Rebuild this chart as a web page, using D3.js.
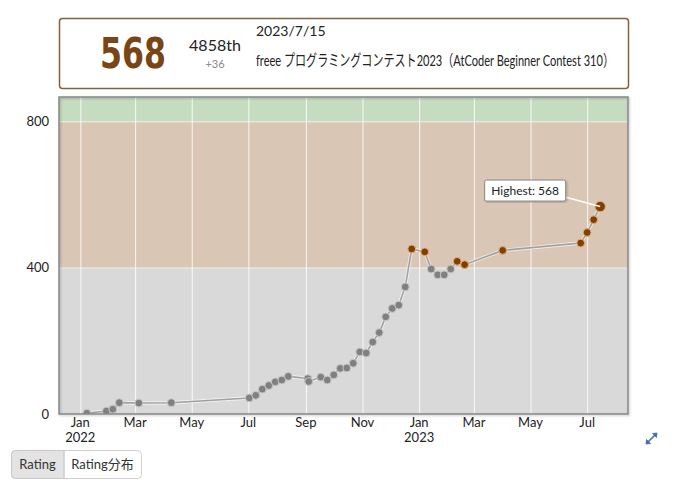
<!DOCTYPE html>
<html><head><meta charset="utf-8">
<script src="https://cdnjs.cloudflare.com/ajax/libs/d3/7.8.5/d3.min.js"></script>
<style>
body{margin:0;background:#fff;}
svg{display:block;font-family:Lato,"Noto Sans CJK JP",sans-serif;}
</style></head>
<body><svg id="c" width="680" height="491"></svg>
<script>
const contestDates = ["2022-01-08","2022-01-29","2022-02-05","2022-02-12","2022-03-05","2022-04-09","2022-07-02","2022-07-09","2022-07-16","2022-07-23","2022-07-30","2022-08-06","2022-08-13","2022-09-03","2022-09-04","2022-09-17","2022-09-24","2022-10-01","2022-10-08","2022-10-15","2022-10-22","2022-10-29","2022-11-05","2022-11-12","2022-11-19","2022-11-26","2022-12-03","2022-12-10","2022-12-17","2022-12-24","2023-01-07","2023-01-14","2023-01-21","2023-01-28","2023-02-04","2023-02-11","2023-02-19","2023-04-01","2023-06-24","2023-07-01","2023-07-08","2023-07-15"];
const ratings = [2,8,13,31,30,31,44,51,68,78,88,93,103,97,89,101,93,107,125,126,139,170,167,197,223,266,289,298,348,452,444,397,381,381,397,418,409,448,468,497,532,568];
const yTicks = [0,400,800];
const bandBounds = [0,400,800,1200];
const bandColors = ["#d9d9d9","#d9c6b4","#c6dcc0"];
const monthNames = ["Jan","Feb","Mar","Apr","May","Jun","Jul","Aug","Sep","Oct","Nov","Dec"];
const header = {rating:"568", rank:"4858th", diff:"+36", date:"2023/7/15", contest:"freee プログラミングコンテスト2023（AtCoder Beginner Contest 310）"};
const buttons = ["Rating","Rating分布"];

const svg = d3.select("#c");
const pl=59, pt=97, pw=569, ph=317;
const parse = d3.timeParse("%Y-%m-%d");
const dates = contestDates.map(parse);
const data = dates.map((d,i)=>({d, r:ratings[i]}));
const x = d3.scaleTime()
  .domain([d3.timeDay.offset(dates[0],-30), d3.timeDay.offset(dates[dates.length-1],30)])
  .range([pl, pl+pw]);
const yMax = d3.max(ratings)+300;
const y = d3.scaleLinear().domain([0,yMax]).range([pt+ph, pt]);
const col = r => r<400 ? "#808080" : (r<800 ? "#804000" : "#008000");

function fitText(sel, x0, y0, width){
  sel.attr("x",0).attr("y",0);
  const w = sel.node().getComputedTextLength();
  sel.attr("transform",`translate(${x0},${y0}) scale(${width/w},1)`);
}

// header box
svg.append("rect").attr("x",59.5).attr("y",18.5).attr("width",569).attr("height",70)
  .attr("rx",3).attr("fill","#fff").attr("stroke","#86603c").attr("stroke-width",1.5);
const rt = svg.append("text")
  .style("font-family","'Liberation Sans Narrow','DejaVu Sans Condensed',sans-serif")
  .style("font-weight","bold").style("font-size","43px")
  .attr("fill","#7a4514").text(header.rating);
fitText(rt,100,68,66);
svg.append("text").attr("x",215).attr("y",51).attr("text-anchor","middle")
  .style("font-size","16px").attr("fill","#222").text(header.rank);
svg.append("text").attr("x",215).attr("y",68).attr("text-anchor","middle")
  .style("font-size","11px").attr("fill","#888").text(header.diff);
svg.append("text").attr("x",256).attr("y",36)
  .style("font-size","14px").attr("fill","#222").text(header.date);
const ct = svg.append("text").style("font-size","16px").attr("fill","#222").text(header.contest);
fitText(ct,256,66,358);

// plot
const defs = svg.append("defs");
defs.append("clipPath").attr("id","clip").append("rect")
  .attr("x",pl).attr("y",pt).attr("width",pw).attr("height",ph);
const f = defs.append("filter").attr("id","sh").attr("x","-5%").attr("y","-5%").attr("width","110%").attr("height","110%");
f.append("feDropShadow").attr("dx",1).attr("dy",1).attr("stdDeviation",1).attr("flood-color","#000").attr("flood-opacity",0.25);

const g = svg.append("g").attr("clip-path","url(#clip)");
for(let i=0;i<bandColors.length;i++){
  const y0 = y(Math.min(bandBounds[i+1],yMax)), y1 = y(bandBounds[i]);
  g.append("rect").attr("x",pl).attr("width",pw).attr("y",y0).attr("height",Math.max(0,y1-y0)).attr("fill",bandColors[i]);
}
const monthTicks = x.ticks(d3.timeMonth.every(2));
g.selectAll(".vg").data(monthTicks).join("line")
  .attr("x1",d=>x(d)+0.5).attr("x2",d=>x(d)+0.5).attr("y1",pt).attr("y2",pt+ph)
  .attr("stroke","#fff").attr("stroke-opacity",0.85).attr("stroke-width",1);
g.selectAll(".hg").data(yTicks.filter(v=>v>0)).join("line")
  .attr("x1",pl).attr("x2",pl+pw).attr("y1",d=>y(d)).attr("y2",d=>y(d))
  .attr("stroke","#fff").attr("stroke-opacity",0.6).attr("stroke-width",1);

const line = d3.line().x(d=>x(d.d)).y(d=>y(d.r));
g.append("path").datum(data).attr("d",line).attr("fill","none")
  .attr("stroke","#fff").attr("stroke-opacity",0.6).attr("stroke-width",3.5);
g.append("path").datum(data).attr("d",line).attr("fill","none")
  .attr("stroke","#a0a0a0").attr("stroke-width",1.6);

const hi = data.reduce((a,b)=>b.r>=a.r?b:a);
g.selectAll(".pt").data(data).join("circle")
  .attr("cx",d=>x(d.d)).attr("cy",d=>y(d.r)).attr("r",d=>d===hi?5.2:3.9)
  .attr("fill",d=>col(d.r))
  .attr("stroke",d=>d.r<400?"#c8c8c8":"#e8b080").attr("stroke-width",1);

// frame
svg.append("rect").attr("x",pl).attr("y",pt).attr("width",pw).attr("height",ph)
  .attr("fill","none").attr("stroke","#888").attr("stroke-width",1.5).attr("filter","url(#sh)");

// tooltip
const hx = x(hi.d), hy = y(hi.r);
const bx = hx-116, by = hy-27, bw = 81, bh = 21;
svg.append("line").attr("x1",bx+bw-2).attr("y1",by+bh-4).attr("x2",hx).attr("y2",hy)
  .attr("stroke","#fff").attr("stroke-width",1.5);
svg.append("rect").attr("x",bx+0.5).attr("y",by+0.5).attr("width",bw).attr("height",bh).attr("rx",2)
  .attr("fill","#fff").attr("stroke","#888").attr("stroke-width",1).attr("filter","url(#sh)");
svg.append("text").attr("x",bx+bw/2+0.5).attr("y",by+15).attr("text-anchor","middle")
  .style("font-size","12px").attr("fill","#222").text("Highest: "+hi.r);

// axes
svg.selectAll(".yl").data(yTicks).join("text")
  .attr("x",49).attr("y",d=>y(d)+4.5).attr("text-anchor","end")
  .style("font-size","13px").attr("fill","#222").text(d=>d);
svg.selectAll(".xl").data(monthTicks).join("text")
  .attr("x",d=>x(d)).attr("y",427).attr("text-anchor","middle")
  .style("font-size","13px").attr("fill","#222").text(d=>monthNames[d.getMonth()]);
svg.selectAll(".xy").data(monthTicks.filter(d=>d.getMonth()===0)).join("text")
  .attr("x",d=>x(d)).attr("y",442).attr("text-anchor","middle")
  .style("font-size","13px").attr("fill","#222").text(d=>d.getFullYear());

// expand icon
const ic = svg.append("g").attr("stroke","#3d6fa8").attr("fill","#3d6fa8").attr("stroke-width",1.6);
ic.append("line").attr("x1",647).attr("y1",443).attr("x2",656).attr("y2",434);
ic.append("path").attr("d","M657,433 L652.5,433.5 L656.5,437.5 Z").attr("stroke-width",0.8);
ic.append("path").attr("d","M646,444 L646.5,439.5 L650.5,443.5 Z").attr("stroke-width",0.8);

// buttons
const bxs=[11,64,141];
svg.append("rect").attr("x",11.5).attr("y",450.5).attr("width",130).attr("height",28).attr("rx",4)
  .attr("fill","#fff").attr("stroke","#d0d0d0");
svg.append("path").attr("d",`M15.5,450.5 H64 V478.5 H15.5 Q11.5,478.5 11.5,474.5 V454.5 Q11.5,450.5 15.5,450.5 Z`)
  .attr("fill","#e3e3e3").attr("stroke","#c8c8c8");
svg.append("line").attr("x1",64).attr("x2",64).attr("y1",450.5).attr("y2",478.5).attr("stroke","#d0d0d0");
buttons.forEach((b,i)=>{
  svg.append("text").attr("x",(bxs[i]+bxs[i+1])/2).attr("y",469).attr("text-anchor","middle")
    .style("font-size","13px").attr("fill","#333").text(b);
});
</script></body></html>
